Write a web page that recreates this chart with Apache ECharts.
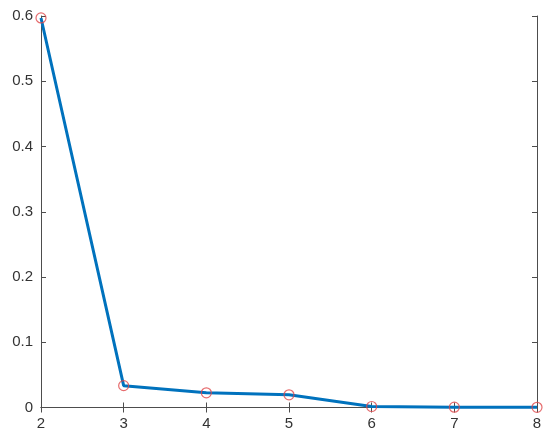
<!DOCTYPE html>
<html><head><meta charset="utf-8">
<script src="https://cdn.jsdelivr.net/npm/echarts@6/dist/echarts.min.js"></script>
<style>html,body{margin:0;padding:0;background:#fff}#c{width:550px;height:441px}</style>
</head><body><div id="c"></div>
<script>
const xValues = [2, 3, 4, 5, 6, 7, 8];
const yValues = [0.597, 0.0335, 0.0225, 0.0195, 0.0015, 0.0005, 0.0003];
const xTicks = [2, 3, 4, 5, 6, 7, 8];
const yTicks = [0, 0.1, 0.2, 0.3, 0.4, 0.5, 0.6];

const axisColor = '#4d4d4d';
const labelStyle = {color: '#333333', fontSize: 15, fontFamily: 'Liberation Sans, Arial, sans-serif'};
const chart = echarts.init(document.getElementById('c'));
const common = {
  axisLine: {show: true, lineStyle: {color: axisColor, width: 1}},
  axisTick: {show: true, inside: true, length: 5, lineStyle: {color: axisColor}},
  splitLine: {show: false}
};
chart.setOption({
  animation: false,
  grid: {left: 41, right: 13, top: 16, bottom: 33.5},
  xAxis: [
    Object.assign({type: 'value', min: xTicks[0], max: xTicks[xTicks.length-1], interval: 1, position: 'bottom',
      axisLabel: Object.assign({margin: 9, formatter: v => String(v)}, labelStyle)}, common),
    Object.assign({type: 'value', min: xTicks[0], max: xTicks[xTicks.length-1], interval: 1, position: 'top',
      axisLabel: {show: false}}, common)
  ],
  yAxis: [
    Object.assign({type: 'value', min: yTicks[0], max: yTicks[yTicks.length-1], interval: 0.1, position: 'left',
      axisLabel: Object.assign({margin: 8, formatter: v => (Math.round(v*10)/10).toString()}, labelStyle)}, common),
    Object.assign({type: 'value', min: yTicks[0], max: yTicks[yTicks.length-1], interval: 0.1, position: 'right',
      axisLabel: {show: false}}, common)
  ],
  series: [
    {type: 'line', data: xValues.map((x, i) => [x, yValues[i]]), symbol: 'none',
      lineStyle: {color: '#0072BD', width: 3}, z: 2},
    {type: 'scatter', data: xValues.map((x, i) => [x, yValues[i]]), symbol: 'circle', symbolSize: 10,
      itemStyle: {color: 'transparent', borderColor: '#e0474a', borderWidth: 1.2}, z: 3}
  ]
});
</script></body></html>
